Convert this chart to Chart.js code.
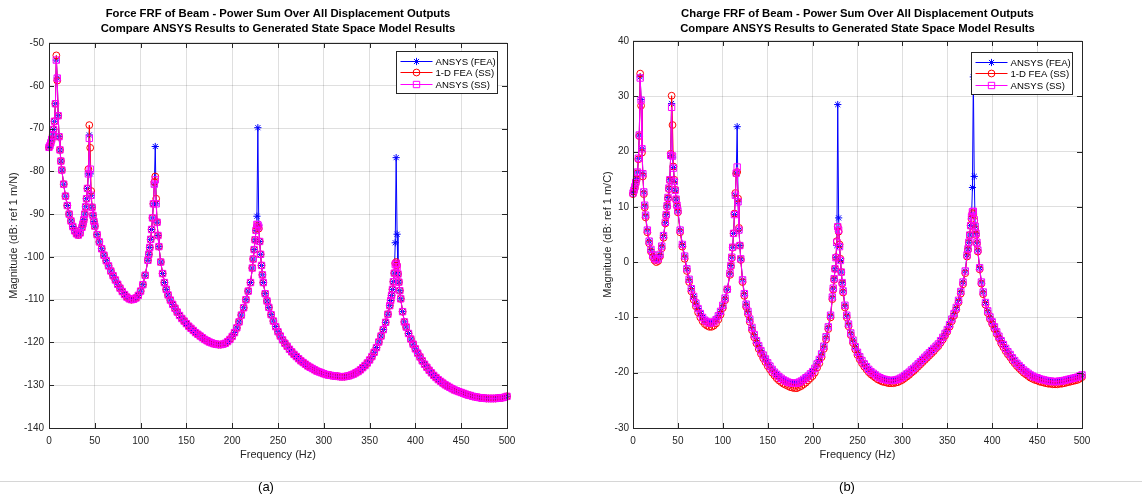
<!DOCTYPE html>
<html>
<head>
<meta charset="utf-8">
<script src="https://cdn.jsdelivr.net/npm/chart.js@4.4.1/dist/chart.umd.min.js"></script>
<style>
  html, body { margin: 0; padding: 0; background: #fff; }
  body { width: 1142px; height: 497px; position: relative; overflow: hidden; font-family: "Liberation Sans", Arial, sans-serif; }
  #forceChart { position: absolute; left: 0; top: 0; }
  #chargeChart { position: absolute; left: 570px; top: 0; }
  .rule { position: absolute; top: 481px; left: 0; width: 1142px; height: 1px; background: #d6d6d6; }
  .caption { position: absolute; top: 479px; width: 60px; text-align: center; font-size: 13px; line-height: 16px; color: #000; }
</style>
</head>
<body>
<canvas id="forceChart" width="570" height="480"></canvas>
<canvas id="chargeChart" width="572" height="480"></canvas>
<div class="rule"></div>
<div class="caption" style="left:236px">(a)</div>
<div class="caption" style="left:817px">(b)</div>
<script>
// frequency points (Hz), shared by both plots
const freq = [
  0, 1, 2, 3, 4, 5, 6, 7, 8, 9, 10, 11, 12, 13, 14,
  16, 18, 20, 22, 24, 26, 28, 30, 32, 34, 36,
  37, 38, 39, 40, 41, 42, 43, 44, 45, 46, 47, 48, 49, 50,
  52.5, 55, 57.5, 60, 62.5, 65, 67.5, 70, 72.5, 75, 77.5, 80, 82.5, 85, 87.5, 90, 92.5, 95, 97.5, 100, 102.5, 105,
  108, 109, 110, 111, 112, 113, 114, 115, 116, 117, 118, 119, 120, 122, 124, 126,
  128, 130, 132.5, 135, 137.5, 140, 142.5, 145, 147.5, 150, 152.5, 155, 157.5, 160, 162.5, 165, 167.5, 170, 172.5,
  175, 177.5, 180, 182.5, 185, 187.5, 190, 192.5, 195, 197.5, 200, 202.5, 205, 207.5, 210, 212.5, 215, 217.5,
  220, 222, 223, 224, 225, 226, 227, 228, 229, 230, 231, 232, 233, 234, 236,
  238, 240, 242.5, 245, 247.5, 250, 252.5, 255, 257.5, 260, 262.5, 265, 267.5, 270, 272.5, 275, 277.5, 280, 282.5, 285, 287.5,
  290, 292.5, 295, 297.5, 300, 302.5, 305, 307.5, 310, 312.5, 315, 317.5, 320, 322.5, 325, 327.5, 330, 332.5, 335, 337.5,
  340, 342.5, 345, 347.5, 350, 352.5, 355, 357.5, 360, 362.5, 365, 367.5, 370,
  372, 373, 374, 375, 376, 377, 378, 379, 380, 381, 382, 383, 384, 386, 388,
  390, 392.5, 395, 397.5, 400, 402.5, 405, 407.5, 410, 412.5, 415, 417.5, 420, 422.5, 425, 427.5, 430, 432.5, 435, 437.5,
  440, 442.5, 445, 447.5, 450, 452.5, 455, 457.5, 460, 462.5, 465, 467.5, 470, 472.5, 475, 477.5, 480, 482.5, 485, 487.5,
  490, 492.5, 495, 497.5, 500
];

// (a) Force FRF, dB ref 1 m/N
const forceFea = [
  -74.4, -74.0, -73.3, -72.5, -71.5, -70.2, -68.3, -64.2, -54.0, -58.2, -67.0, -71.9, -75.0, -77.6, -79.7,
  -83.0, -85.8, -88.0, -90.0, -91.6, -92.9, -93.9, -94.6, -94.9, -94.4, -93.1,
  -92.3, -91.3, -90.0, -88.3, -86.4, -84.0, -80.6, -71.5, -80.6, -85.6, -88.4, -90.3, -91.7, -92.8,
  -94.8, -96.5, -98.1, -99.6, -100.9, -102.1, -103.3, -104.4, -105.4, -106.4, -107.3, -108.1, -108.8, -109.4, -109.8, -110.0, -109.9, -109.6, -109.0, -108.0, -106.5, -104.3,
  -100.8, -99.4, -97.8, -95.9, -93.6, -90.9, -87.6, -83.0, -74.2, -87.6, -91.9, -95.0, -97.6, -101.2, -103.9, -106.0,
  -107.6, -108.9, -110.1, -111.1, -112.0, -112.9, -113.7, -114.4, -115.0, -115.6, -116.2, -116.7, -117.2, -117.7, -118.1, -118.5, -118.9, -119.3, -119.6,
  -119.9, -120.1, -120.3, -120.4, -120.5, -120.5, -120.4, -120.2, -119.8, -119.3, -118.6, -117.7, -116.6, -115.2, -113.6, -111.9, -110.0, -108.0,
  -106.0, -102.6, -100.5, -98.3, -96.0, -93.8, -90.5, -69.8, -92.6, -96.4, -99.4, -102.0, -104.2, -106.0, -108.6,
  -110.3, -111.8, -113.5, -115.0, -116.3, -117.5, -118.5, -119.4, -120.2, -120.9, -121.6, -122.2, -122.8, -123.3, -123.8, -124.3, -124.7, -125.1, -125.5, -125.8, -126.1,
  -126.4, -126.7, -126.9, -127.1, -127.3, -127.5, -127.6, -127.7, -127.8, -127.9, -127.9, -128.0, -128.0, -128.0, -127.9, -127.8, -127.6, -127.4, -127.1, -126.8,
  -126.4, -125.9, -125.4, -124.8, -124.1, -123.3, -122.3, -121.2, -119.9, -118.5, -117.0, -115.3, -113.4,
  -111.4, -110.2, -109.0, -107.6, -105.8, -103.8, -96.7, -76.8, -94.7, -104.0, -105.9, -107.9, -109.8, -112.8, -115.2,
  -116.4, -117.9, -119.2, -120.4, -121.5, -122.5, -123.4, -124.3, -125.1, -125.8, -126.5, -127.1, -127.7, -128.2, -128.7, -129.1, -129.5, -129.9, -130.2, -130.5,
  -130.8, -131.1, -131.3, -131.5, -131.7, -131.9, -132.1, -132.3, -132.4, -132.6, -132.7, -132.8, -132.9, -133.0, -133.0, -133.1, -133.1, -133.1, -133.1, -133.1,
  -133.0, -133.0, -132.9, -132.8, -132.6
];
const forceOneD = [
  -74.4, -74.0, -73.3, -72.5, -71.5, -70.2, -68.3, -64.2, -52.9, -58.8, -67.0, -71.9, -75.0, -77.6, -79.7,
  -83.0, -85.8, -88.0, -90.0, -91.6, -92.9, -93.9, -94.6, -94.9, -94.4, -93.1,
  -92.3, -91.3, -90.0, -88.3, -86.4, -84.0, -79.5, -69.2, -74.5, -84.6, -88.4, -90.3, -91.7, -92.8,
  -94.8, -96.5, -98.1, -99.6, -100.9, -102.1, -103.3, -104.4, -105.4, -106.4, -107.3, -108.1, -108.8, -109.4, -109.8, -110.0, -109.9, -109.6, -109.0, -108.0, -106.5, -104.3,
  -100.8, -99.4, -97.8, -95.9, -93.6, -90.9, -87.6, -82.5, -81.2, -86.4, -91.9, -95.0, -97.6, -101.2, -103.9, -106.0,
  -107.6, -108.9, -110.1, -111.1, -112.0, -112.9, -113.7, -114.4, -115.0, -115.6, -116.2, -116.7, -117.2, -117.7, -118.1, -118.5, -118.9, -119.3, -119.6,
  -119.9, -120.1, -120.3, -120.4, -120.5, -120.5, -120.4, -120.2, -119.8, -119.3, -118.6, -117.7, -116.6, -115.2, -113.6, -111.9, -110.0, -108.0,
  -106.0, -102.6, -100.5, -98.3, -96.0, -93.8, -92.8, -93.0, -93.4, -96.4, -99.4, -102.0, -104.2, -106.0, -108.6,
  -110.3, -111.8, -113.5, -115.0, -116.3, -117.5, -118.5, -119.4, -120.2, -120.9, -121.6, -122.2, -122.8, -123.3, -123.8, -124.3, -124.7, -125.1, -125.5, -125.8, -126.1,
  -126.4, -126.7, -126.9, -127.1, -127.3, -127.5, -127.6, -127.7, -127.8, -127.9, -127.9, -128.0, -128.0, -128.0, -127.9, -127.8, -127.6, -127.4, -127.1, -126.8,
  -126.4, -125.9, -125.4, -124.8, -124.1, -123.3, -122.3, -121.2, -119.9, -118.5, -117.0, -115.3, -113.4,
  -111.4, -110.2, -109.0, -107.6, -105.8, -103.8, -101.5, -101.2, -102.0, -104.0, -105.9, -107.9, -109.8, -112.8, -115.2,
  -116.4, -117.9, -119.2, -120.4, -121.5, -122.5, -123.4, -124.3, -125.1, -125.8, -126.5, -127.1, -127.7, -128.2, -128.7, -129.1, -129.5, -129.9, -130.2, -130.5,
  -130.8, -131.1, -131.3, -131.5, -131.7, -131.9, -132.1, -132.3, -132.4, -132.6, -132.7, -132.8, -132.9, -133.0, -133.0, -133.1, -133.1, -133.1, -133.1, -133.1,
  -133.0, -133.0, -132.9, -132.8, -132.6
];
const forceSS = [
  -74.4, -74.0, -73.3, -72.5, -71.5, -70.2, -68.3, -64.2, -54.0, -58.2, -67.0, -71.9, -75.0, -77.6, -79.7,
  -83.0, -85.8, -88.0, -90.0, -91.6, -92.9, -93.9, -94.6, -94.9, -94.4, -93.1,
  -92.3, -91.3, -90.0, -88.3, -86.4, -84.0, -80.6, -72.3, -79.5, -85.6, -88.4, -90.3, -91.7, -92.8,
  -94.8, -96.5, -98.1, -99.6, -100.9, -102.1, -103.3, -104.4, -105.4, -106.4, -107.3, -108.1, -108.8, -109.4, -109.8, -110.0, -109.9, -109.6, -109.0, -108.0, -106.5, -104.3,
  -100.8, -99.4, -97.8, -95.9, -93.6, -90.9, -87.6, -83.0, -82.0, -87.6, -91.9, -95.0, -97.6, -101.2, -103.9, -106.0,
  -107.6, -108.9, -110.1, -111.1, -112.0, -112.9, -113.7, -114.4, -115.0, -115.6, -116.2, -116.7, -117.2, -117.7, -118.1, -118.5, -118.9, -119.3, -119.6,
  -119.9, -120.1, -120.3, -120.4, -120.5, -120.5, -120.4, -120.2, -119.8, -119.3, -118.6, -117.7, -116.6, -115.2, -113.6, -111.9, -110.0, -108.0,
  -106.0, -102.6, -100.5, -98.3, -96.0, -93.8, -92.4, -92.5, -93.0, -96.4, -99.4, -102.0, -104.2, -106.0, -108.6,
  -110.3, -111.8, -113.5, -115.0, -116.3, -117.5, -118.5, -119.4, -120.2, -120.9, -121.6, -122.2, -122.8, -123.3, -123.8, -124.3, -124.7, -125.1, -125.5, -125.8, -126.1,
  -126.4, -126.7, -126.9, -127.1, -127.3, -127.5, -127.6, -127.7, -127.8, -127.9, -127.9, -128.0, -128.0, -128.0, -127.9, -127.8, -127.6, -127.4, -127.1, -126.8,
  -126.4, -125.9, -125.4, -124.8, -124.1, -123.3, -122.3, -121.2, -119.9, -118.5, -117.0, -115.3, -113.4,
  -111.4, -110.2, -109.0, -107.6, -105.8, -103.8, -101.8, -101.5, -102.3, -104.0, -105.9, -107.9, -109.8, -112.8, -115.2,
  -116.4, -117.9, -119.2, -120.4, -121.5, -122.5, -123.4, -124.3, -125.1, -125.8, -126.5, -127.1, -127.7, -128.2, -128.7, -129.1, -129.5, -129.9, -130.2, -130.5,
  -130.8, -131.1, -131.3, -131.5, -131.7, -131.9, -132.1, -132.3, -132.4, -132.6, -132.7, -132.8, -132.9, -133.0, -133.0, -133.1, -133.1, -133.1, -133.1, -133.1,
  -133.0, -133.0, -132.9, -132.8, -132.6
];

// (b) Charge FRF, dB ref 1 m/C
const chargeFea = [
  12.5, 13.0, 13.6, 14.4, 15.1, 16.3, 18.8, 23.0, 33.5, 29.4, 20.5, 16.0, 12.7, 10.3, 8.5,
  5.8, 3.8, 2.3, 1.3, 0.7, 0.4, 0.6, 1.4, 2.9, 4.8, 7.2,
  8.6, 10.2, 11.7, 13.4, 14.9, 19.3, 28.7, 19.0, 17.1, 14.6, 13.0, 11.4, 10.3, 9.3,
  5.8, 3.2, 1.1, -1.2, -3.1, -4.8, -6.2, -7.4, -8.4, -9.3, -10.0, -10.5, -10.8, -11.0, -11.0, -10.8, -10.4, -9.7, -8.9, -7.8, -6.5, -4.9,
  -2.0, -0.6, 0.9, 2.7, 5.2, 8.6, 12.1, 16.1, 24.5, 10.9, 5.8, 3.0, 0.6, -3.2, -5.7, -7.6,
  -8.9, -10.3, -11.8, -13.1, -14.2, -15.1, -16.0, -16.8, -17.5, -18.2, -18.8, -19.4, -19.9, -20.3, -20.7, -21.0, -21.3, -21.5, -21.7,
  -21.8, -21.9, -21.9, -21.9, -21.7, -21.5, -21.2, -20.9, -20.6, -20.2, -19.8, -19.2, -18.4, -17.6, -16.6, -15.2, -13.5, -11.7,
  -9.6, -6.3, -4.7, -3.0, -1.2, 0.8, 3.0, 28.5, 8.0, 2.8, 0.3, -1.8, -3.7, -5.2, -7.8,
  -9.6, -11.2, -12.8, -14.1, -15.3, -16.3, -17.1, -17.8, -18.4, -18.9, -19.4, -19.8, -20.1, -20.4, -20.7, -20.9, -21.1, -21.2, -21.3, -21.4, -21.4,
  -21.4, -21.3, -21.2, -21.0, -20.8, -20.5, -20.2, -19.9, -19.5, -19.2, -18.8, -18.4, -18.0, -17.6, -17.2, -16.8, -16.4, -16.0, -15.6, -15.2,
  -14.8, -14.2, -13.6, -12.9, -12.2, -11.3, -10.3, -9.3, -8.2, -6.9, -5.3, -3.6, -1.6,
  1.3, 2.4, 3.6, 4.9, 6.6, 8.2, 13.5, 33.5, 15.5, 6.5, 5.2, 3.6, 2.2, -1.0, -3.6,
  -5.4, -7.3, -8.8, -9.9, -10.8, -11.7, -12.6, -13.4, -14.2, -14.9, -15.6, -16.2, -16.7, -17.3, -17.8, -18.3, -18.7, -19.1, -19.5, -19.8,
  -20.1, -20.4, -20.6, -20.8, -20.9, -21.1, -21.2, -21.3, -21.4, -21.5, -21.5, -21.6, -21.6, -21.6, -21.5, -21.5, -21.4, -21.3, -21.2, -21.1,
  -21.0, -20.9, -20.8, -20.6, -20.4
];
const chargeOneD = [
  12.3, 12.8, 13.4, 14.2, 14.9, 16.1, 18.6, 22.8, 34.1, 28.3, 19.8, 15.5, 12.3, 9.9, 8.1,
  5.4, 3.4, 1.9, 0.9, 0.3, 0.0, 0.2, 1.0, 2.5, 4.4, 7.0,
  8.4, 10.0, 11.5, 13.2, 14.8, 19.6, 30.1, 24.8, 17.3, 14.9, 13.1, 11.3, 10.1, 9.0,
  5.4, 2.8, 0.6, -1.6, -3.6, -5.3, -6.8, -8.0, -9.1, -10.0, -10.7, -11.2, -11.5, -11.7, -11.7, -11.5, -11.1, -10.4, -9.5, -8.3, -6.9, -5.0,
  -2.3, -0.8, 0.7, 2.6, 5.2, 8.8, 12.5, 16.0, 16.3, 11.5, 6.2, 3.0, 0.4, -3.6, -6.1, -8.1,
  -9.4, -10.8, -12.3, -13.6, -14.7, -15.7, -16.6, -17.4, -18.1, -18.8, -19.4, -20.0, -20.5, -21.0, -21.4, -21.7, -22.0, -22.2, -22.4,
  -22.6, -22.7, -22.8, -22.8, -22.6, -22.4, -22.1, -21.8, -21.4, -21.0, -20.6, -20.0, -19.1, -18.3, -17.2, -15.7, -14.0, -12.1,
  -10.0, -6.7, -5.0, -3.2, -1.2, 0.9, 3.8, 6.4, 5.5, 3.2, 0.6, -1.8, -3.9, -5.5, -8.2,
  -10.0, -11.6, -13.2, -14.6, -15.8, -16.8, -17.6, -18.3, -18.9, -19.4, -19.9, -20.3, -20.6, -20.9, -21.2, -21.4, -21.6, -21.7, -21.8, -21.9, -21.9,
  -21.9, -21.8, -21.7, -21.5, -21.3, -21.0, -20.7, -20.4, -20.0, -19.7, -19.3, -18.9, -18.5, -18.1, -17.7, -17.3, -16.9, -16.5, -16.1, -15.6,
  -15.2, -14.6, -14.0, -13.3, -12.6, -11.7, -10.7, -9.7, -8.6, -7.3, -5.7, -4.0, -2.0,
  1.0, 2.2, 3.5, 4.9, 6.6, 7.8, 8.9, 8.7, 7.5, 6.0, 4.9, 3.3, 1.9, -1.3, -3.9,
  -5.8, -7.7, -9.2, -10.3, -11.2, -12.1, -13.0, -13.8, -14.7, -15.4, -16.1, -16.7, -17.2, -17.8, -18.3, -18.8, -19.2, -19.6, -20.0, -20.3,
  -20.6, -20.9, -21.1, -21.3, -21.4, -21.6, -21.7, -21.8, -21.9, -22.0, -22.0, -22.1, -22.1, -22.1, -22.0, -22.0, -21.9, -21.8, -21.7, -21.6,
  -21.5, -21.4, -21.3, -21.1, -20.8
];
const chargeSS = [
  12.5, 13.0, 13.6, 14.4, 15.1, 16.3, 18.8, 23.0, 33.3, 29.3, 20.5, 16.0, 12.7, 10.3, 8.5,
  5.8, 3.8, 2.3, 1.3, 0.7, 0.4, 0.6, 1.4, 2.9, 4.8, 7.2,
  8.6, 10.2, 11.7, 13.4, 14.9, 19.3, 28.0, 19.2, 17.0, 14.6, 13.0, 11.4, 10.3, 9.3,
  5.8, 3.2, 1.1, -1.2, -3.1, -4.8, -6.2, -7.4, -8.4, -9.3, -10.0, -10.5, -10.8, -11.0, -11.0, -10.8, -10.4, -9.7, -8.9, -7.8, -6.5, -4.9,
  -2.0, -0.6, 0.9, 2.7, 5.2, 8.6, 12.1, 16.1, 17.2, 10.9, 5.8, 3.0, 0.6, -3.2, -5.7, -7.6,
  -8.9, -10.3, -11.8, -13.1, -14.2, -15.1, -16.0, -16.8, -17.5, -18.2, -18.8, -19.4, -19.9, -20.3, -20.7, -21.0, -21.3, -21.5, -21.7,
  -21.8, -21.9, -21.9, -21.9, -21.7, -21.5, -21.2, -20.9, -20.6, -20.2, -19.8, -19.2, -18.4, -17.6, -16.6, -15.2, -13.5, -11.7,
  -9.6, -6.3, -4.7, -3.0, -1.2, 0.8, 3.6, 6.4, 5.8, 2.8, 0.3, -1.8, -3.7, -5.2, -7.8,
  -9.6, -11.2, -12.8, -14.1, -15.3, -16.3, -17.1, -17.8, -18.4, -18.9, -19.4, -19.8, -20.1, -20.4, -20.7, -20.9, -21.1, -21.2, -21.3, -21.4, -21.4,
  -21.4, -21.3, -21.2, -21.0, -20.8, -20.5, -20.2, -19.9, -19.5, -19.2, -18.8, -18.4, -18.0, -17.6, -17.2, -16.8, -16.4, -16.0, -15.6, -15.2,
  -14.8, -14.2, -13.6, -12.9, -12.2, -11.3, -10.3, -9.3, -8.2, -6.9, -5.3, -3.6, -1.6,
  1.3, 2.4, 3.6, 4.9, 6.6, 8.2, 9.1, 9.2, 7.7, 6.5, 5.2, 3.6, 2.2, -1.0, -3.6,
  -5.4, -7.3, -8.8, -9.9, -10.8, -11.7, -12.6, -13.4, -14.2, -14.9, -15.6, -16.2, -16.7, -17.3, -17.8, -18.3, -18.7, -19.1, -19.5, -19.8,
  -20.1, -20.4, -20.6, -20.8, -20.9, -21.1, -21.2, -21.3, -21.4, -21.5, -21.5, -21.6, -21.6, -21.6, -21.5, -21.5, -21.4, -21.3, -21.2, -21.1,
  -21.0, -20.9, -20.8, -20.6, -20.4
];

const seriesLabels = ['ANSYS (FEA)', '1-D FEA (SS)', 'ANSYS (SS)'];
const xTicks = [0, 50, 100, 150, 200, 250, 300, 350, 400, 450, 500];

[forceFea, forceOneD, forceSS, chargeFea, chargeOneD, chargeSS].forEach((s, i) => {
  if (s.length !== freq.length) throw new Error('series ' + i + ' has ' + s.length + ' values, expected ' + freq.length);
});

const axisColor = '#262626';
const gridColor = 'rgba(38,38,38,0.15)';
const fontFamily = '"Liberation Sans", Arial, sans-serif';

// -----------------------------
// Helper: marker shapes (used by the legend sample)
// -----------------------------
function drawMarker(ctx, style, x, y, r) {
  ctx.beginPath();
  if (style === 'circle') {
    ctx.arc(x, y, r, 0, Math.PI * 2);
  } else if (style === 'rect') {
    const h = r * Math.SQRT1_2;
    ctx.rect(x - h, y - h, 2 * h, 2 * h);
  } else {
    const d = r * Math.SQRT1_2;
    ctx.moveTo(x - r, y); ctx.lineTo(x + r, y);
    ctx.moveTo(x, y - r); ctx.lineTo(x, y + r);
    ctx.moveTo(x - d, y - d); ctx.lineTo(x + d, y + d);
    ctx.moveTo(x - d, y + d); ctx.lineTo(x + d, y - d);
  }
  ctx.stroke();
}

// -----------------------------
// Plugin: MATLAB style box, inward ticks and legend
// -----------------------------
const matlabFrame = {
  id: 'matlabFrame',
  afterDraw(chart, args, opts) {
    const {ctx, chartArea: a, scales: {x, y}} = chart;
    ctx.save();
    ctx.strokeStyle = axisColor;
    ctx.lineWidth = 1;
    ctx.beginPath();
    x.ticks.forEach(t => {
      const px = Math.round(x.getPixelForValue(t.value)) + 0.5;
      ctx.moveTo(px, a.bottom); ctx.lineTo(px, a.bottom - 5);
      ctx.moveTo(px, a.top); ctx.lineTo(px, a.top + 5);
    });
    y.ticks.forEach(t => {
      const py = Math.round(y.getPixelForValue(t.value)) + 0.5;
      ctx.moveTo(a.left, py); ctx.lineTo(a.left + 5, py);
      ctx.moveTo(a.right, py); ctx.lineTo(a.right - 5, py);
    });
    ctx.stroke();
    ctx.strokeRect(Math.round(a.left) + 0.5, Math.round(a.top) + 0.5, Math.round(a.width), Math.round(a.height));

    // legend box
    const w = 101, h = 42;
    const x0 = Math.round(a.right - 10 - w) + 0.5;
    const y0 = Math.round(a.top + opts.legendTop) + 0.5;
    ctx.fillStyle = '#fff';
    ctx.fillRect(x0, y0, w, h);
    ctx.strokeStyle = axisColor;
    ctx.strokeRect(x0, y0, w, h);
    ctx.font = '9.6px ' + fontFamily;
    ctx.textBaseline = 'middle';
    chart.data.datasets.forEach((ds, i) => {
      const ry = Math.round(y0 + 9 + i * 11.6) + 0.5;
      ctx.strokeStyle = ds.borderColor;
      ctx.beginPath();
      ctx.moveTo(x0 + 4, ry); ctx.lineTo(x0 + 36, ry);
      ctx.stroke();
      drawMarker(ctx, ds.pointStyle, x0 + 20, ry, ds.pointRadius);
      ctx.fillStyle = '#000';
      ctx.fillText(ds.label, x0 + 39, ry + 0.5);
    });
    ctx.restore();
  }
};

function buildDatasets(fea, oneD, ss) {
  const pts = arr => freq.map((f, i) => ({x: f, y: arr[i]}));
  const common = {
    borderWidth: 1,
    pointBorderWidth: 1,
    pointBackgroundColor: 'rgba(0,0,0,0)',
    tension: 0,
    clip: {left: 4, right: 4, top: 0, bottom: 0}
  };
  return [
    {...common, label: seriesLabels[0], data: pts(fea), borderColor: '#0000ff', pointBorderColor: '#0000ff', pointStyle: 'star', pointRadius: 3.6, order: 3},
    {...common, label: seriesLabels[1], data: pts(oneD), borderColor: '#ff0000', pointBorderColor: '#ff0000', pointStyle: 'circle', pointRadius: 3.4, order: 2},
    {...common, label: seriesLabels[2], data: pts(ss), borderColor: '#ff00ff', pointBorderColor: '#ff00ff', pointStyle: 'rect', pointRadius: 4.5, order: 1}
  ];
}

function buildChart(canvasId, cfg) {
  return new Chart(document.getElementById(canvasId), {
    type: 'line',
    data: {datasets: buildDatasets(cfg.fea, cfg.oneD, cfg.ss)},
    plugins: [matlabFrame],
    options: {
      responsive: false,
      animation: false,
      events: [],
      layout: {padding: {left: 0, right: cfg.padRight, top: 0, bottom: 0}},
      plugins: {
        legend: {display: false},
        tooltip: {enabled: false},
        title: {
          display: true,
          fullSize: false,
          text: cfg.title,
          color: '#000',
          font: {family: fontFamily, size: 11.3, weight: 'bold', lineHeight: 1.3},
          padding: {top: 7, bottom: cfg.titleBottom}
        },
        matlabFrame: {legendTop: cfg.legendTop}
      },
      scales: {
        x: {
          type: 'linear',
          min: 0,
          max: 500,
          afterBuildTicks: scale => { scale.ticks = xTicks.map(v => ({value: v})); },
          afterFit: scale => { scale.height = 52; },
          grid: {color: gridColor, drawTicks: false},
          border: {display: false},
          ticks: {color: axisColor, padding: 7, maxRotation: 0, font: {family: fontFamily, size: 10}},
          title: {display: true, text: 'Frequency (Hz)', color: axisColor, padding: {top: 0, bottom: 18}, font: {family: fontFamily, size: 11}}
        },
        y: {
          min: cfg.yMin,
          max: cfg.yMax,
          afterFit: scale => { scale.width = cfg.yWidth; },
          grid: {color: gridColor, drawTicks: false},
          border: {display: false},
          ticks: {stepSize: 10, color: axisColor, padding: cfg.yTickPad, font: {family: fontFamily, size: 10}},
          title: {display: true, text: cfg.yTitle, color: axisColor, padding: {top: cfg.yTitlePad, bottom: 0}, font: {family: fontFamily, size: 11}}
        }
      }
    }
  });
}

buildChart('forceChart', {
  fea: forceFea, oneD: forceOneD, ss: forceSS,
  title: ['Force FRF of Beam - Power Sum Over All Displacement Outputs', 'Compare ANSYS Results to Generated State Space Model Results'],
  yTitle: 'Magnitude (dB: ref 1 m/N)',
  yMin: -140, yMax: -50,
  yWidth: 49, yTickPad: 5, yTitlePad: 7,
  padRight: 63, titleBottom: 6.6, legendTop: 8
});

buildChart('chargeChart', {
  fea: chargeFea, oneD: chargeOneD, ss: chargeSS,
  title: ['Charge FRF of Beam - Power Sum Over All Displacement Outputs', 'Compare ANSYS Results to Generated State Space Model Results'],
  yTitle: 'Magnitude (dB: ref 1 m/C)',
  yMin: -30, yMax: 40,
  yWidth: 63, yTickPad: 4, yTitlePad: 31,
  padRight: 60, titleBottom: 4.6, legendTop: 11
});
</script>
</body>
</html>
